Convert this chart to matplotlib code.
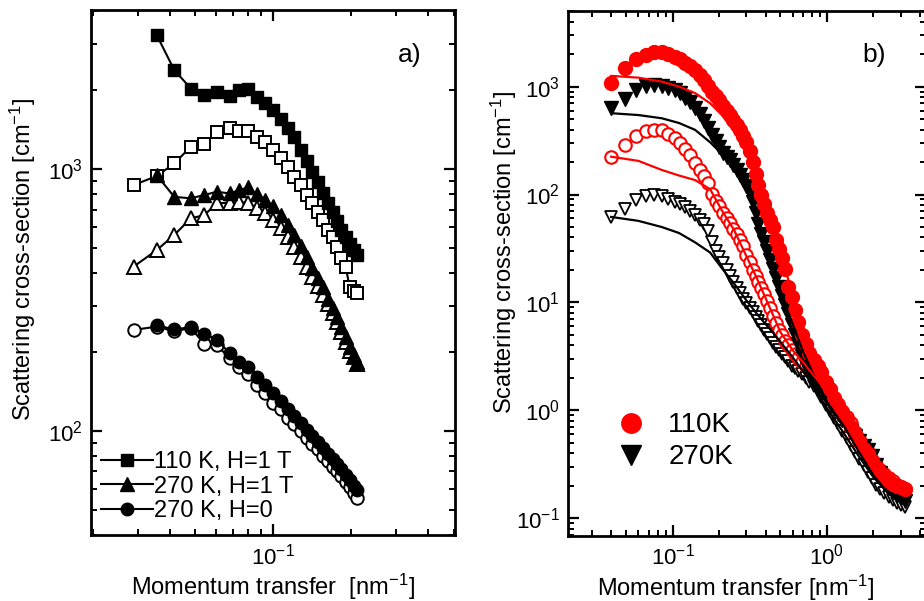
import numpy as np
import matplotlib
matplotlib.use('Agg')
import matplotlib.pyplot as plt
from matplotlib.lines import Line2D

plt.rcParams['font.family'] = ['Liberation Sans', 'DejaVu Sans']
plt.rcParams['mathtext.default'] = 'regular'

nan = np.nan

# ---------------- Panel a data ----------------
q_a = [0.0288, 0.0354, 0.0414, 0.048, 0.0541, 0.0605, 0.0678, 0.074, 0.0802, 0.0865,
       0.093, 0.100, 0.107, 0.114, 0.121, 0.128, 0.135, 0.142, 0.149, 0.156,
       0.163, 0.170, 0.177, 0.184, 0.191, 0.198, 0.205, 0.211]
sq_filled = [nan, 3250, 2390, 2030, 1920, 1975, 1900, 2005, 2030, 1890,
             1782, 1681, 1552, 1435, 1325, 1182, 1073, 974, 892, 810,
             742, 685, 633, 585, 550, 517, 490, 469]
sq_open = [869, 940, 1051, 1217, 1246, 1388, 1430, 1397, 1397, 1329,
           1271, 1182, 1099, 1020, 935, 869, 796, 739, 687, 638,
           585, 551, 505, 456, 424, 354, 342, 335]
tri_filled = [nan, 948, 783, 773, 796, 819, 807, 831, 851, 800,
              765, 722, 665, 611, 560, 508, 462, 419, 385, 354,
              318, 295, 272, 250, 228, 209, 195, 184]
tri_open = [424, 490, 560, 648, 667, 739, 745, 750, 739, 708,
            677, 638, 595, 549, 503, 461, 422, 387, 357, 330,
            305, 282, 260, 238, 218, 202, 191, 180]
circ_filled = [nan, 253, 244, 249, 235, 223, 198, 183, 176, 161,
               150, 139, 130, 121, 114, 107, 100.6, 95.4, 90.5, 85.9,
               81.5, 78, 74.6, 71.4, 67.7, 64.8, 61.5, 59.3]
circ_open = [243, 250, 240, 247, 215, 212, 190, 176, 165, 150,
             140, 128, 121, 112, 106, 100, 94, 89, 85, 80,
             76.5, 73, 70, 67, 64, 61, 58, 55.5]
labels_a = ['110 K, H=1 T', '270 K, H=1 T', '270 K, H=0']

# ---------------- Panel b data ----------------
q_b = [0.040, 0.049, 0.058, 0.067, 0.076, 0.085, 0.094, 0.103, 0.112, 0.121,
       0.130, 0.140, 0.150, 0.160, 0.170, 0.180, 0.190, 0.200, 0.212, 0.224,
       0.236, 0.248, 0.260, 0.273, 0.286, 0.300, 0.315, 0.330, 0.345, 0.360,
       0.376, 0.392, 0.410, 0.428, 0.447, 0.467, 0.488, 0.510, 0.535, 0.560,
       0.590, 0.620, 0.650, 0.690, 0.730, 0.770, 0.820, 0.870, 0.920, 0.980,
       1.04, 1.11, 1.18, 1.26, 1.34, 1.43, 1.52, 1.62, 1.73, 1.84,
       1.96, 2.09, 2.22, 2.36, 2.51, 2.67, 2.84, 3.02, 3.20]
red_filled = [1075, 1480, 1790, 1975, 2070, 2070, 1990, 1900, 1800, 1670,
              1555, 1420, 1290, 1150, 1010, 900, 810, 745, 660, 600,
              545, 495, 445, 395, 345, 305, 255, 200, 155, 123,
              98, 82, 68, 58, 50, 38, 31, 26, 20.5, 14,
              11.3, 8.5, 6.6, 5.0, 4.1, 3.4, 2.9, 2.55, 2.25, 1.85,
              1.58, 1.3, 1.1, 0.95, 0.82, 0.70, 0.60, 0.52, 0.44, 0.39,
              0.34, 0.30, 0.27, 0.24, 0.22, 0.21, 0.20, 0.195, 0.188]
black_filled = [640, 770, 930, 1010, 1035, 1005, 980, 935, 865, 790,
                720, 630, 555, 480, 410, 355, 310, 275, 243, 225,
                207, 188, 170, 152, 137, 120, 105, 85, 68, 53,
                43, 36, 30, 24.5, 20.5, 17, 14, 11.5, 9.4, 7.8,
                6.2, 5.0, 4.1, 3.2, 2.6, 2.25, 1.95, 1.7, 1.5, 1.32,
                1.18, 1.03, 0.92, 0.82, 0.73, 0.65, 0.58, 0.52, 0.47, 0.43,
                0.38, 0.315, 0.26, 0.215, 0.19, 0.175, 0.163, 0.155, 0.145]
red_open = [224, 288, 350, 388, 398, 395, 365, 335, 298, 265,
            232, 198, 170, 148, 128, 102, 87, 78, 68, 60,
            54, 48, 43.5, 38, 33.5, 27.5, 23.5, 20, 17.6, 15.5,
            13.6, 12, 10.3, 8.8, 7.5, 6.4, 5.5, 5.0, 4.4, 4.0,
            3.6, 3.3, 3.05, 2.8, 2.6, 2.4, 2.2, 2.02, 1.82, 1.6,
            1.45, 1.3, 1.15, 0.98, 0.86, 0.76, 0.63, 0.54, 0.46, 0.41,
            0.35, 0.31, 0.28, 0.255, 0.235, 0.22, 0.205, 0.195, 0.186]
black_open = [62, 73, 89, 96, 99, 96, 90, 86, 81, 76,
              70, 64, 58, 53, 46, 36, 30, 26.5, 23, 20,
              17.5, 15.5, 13.5, 12.2, 10.8, 9.8, 8.9, 8.1, 7.4, 6.8,
              6.2, 5.6, 5.1, 4.7, 4.25, 3.9, 3.6, 3.35, 3.1, 2.85,
              2.6, 2.45, 2.3, 2.15, 1.98, 1.85, 1.68, 1.52, 1.34, 1.12,
              0.98, 0.85, 0.74, 0.64, 0.56, 0.48, 0.41, 0.355, 0.31, 0.27,
              0.235, 0.205, 0.185, 0.17, 0.158, 0.148, 0.138, 0.132, 0.128]

q_fit = [0.040, 0.06, 0.085, 0.11, 0.14, 0.175, 0.21, 0.25, 0.30, 0.35, 0.40, 0.45,
         0.50, 0.60, 0.70, 0.80, 1.0, 1.3, 1.6, 2.0, 2.5, 3.0, 3.3]
fit_red_filled = [1257, 1210, 1112, 1000, 869, 701, 540, 390, 250, 150, 85, 48,
                  28, 12, 6, 3.6, 1.7, 0.85, 0.52, 0.32, 0.23, 0.2, 0.19]
fit_black_filled = [567, 545, 509, 460, 397, 305, 235, 170, 110, 65, 36, 20,
                    12.5, 6.3, 3.5, 2.3, 1.2, 0.7, 0.42, 0.25, 0.17, 0.145, 0.14]
fit_red_open = [224, 205, 169, 150, 136, 112, 70, 47, 27, 17, 11, 7.5,
                5.3, 3.6, 2.8, 2.2, 1.5, 0.9, 0.55, 0.33, 0.24, 0.2, 0.19]
fit_black_open = [62, 57, 50, 44, 36, 29, 20.5, 15, 10.5, 7.9, 6.3, 5.2,
                  4.3, 3.1, 2.3, 1.75, 1.05, 0.6, 0.38, 0.24, 0.17, 0.14, 0.135]
labels_b = ['110K', '270K']

RED = '#ff0000'

fig = plt.figure(figsize=(9.24, 6.01), dpi=100)
axa = fig.add_axes([0.0985, 0.1098, 0.394, 0.8735])
axb = fig.add_axes([0.6147, 0.1087, 0.3874, 0.8735])


def style(ax):
    ax.set_xscale('log')
    ax.set_yscale('log')
    for s in ax.spines.values():
        s.set_linewidth(2.0)
    ax.tick_params(which='both', direction='in', top=True, right=True,
                   labelsize=16, pad=6)
    ax.tick_params(which='major', length=8, width=1.6)
    ax.tick_params(which='minor', length=4.5, width=1.4)


# ---- panel a ----
style(axa)
lw = 1.5
axa.plot(q_a, sq_open, '-', color='k', lw=lw, marker='s', ms=9, mfc='white', mec='k', mew=1.4)
axa.plot(q_a, tri_open, '-', color='k', lw=lw, marker='^', ms=10, mfc='white', mec='k', mew=1.4)
axa.plot(q_a, circ_open, '-', color='k', lw=lw, marker='o', ms=9, mfc='white', mec='k', mew=1.4)
axa.plot(q_a, sq_filled, '-', color='k', lw=lw, marker='s', ms=9, label=labels_a[0])
axa.plot(q_a, tri_filled, '-', color='k', lw=lw, marker='^', ms=10, label=labels_a[1])
axa.plot(q_a, circ_filled, '-', color='k', lw=lw, marker='o', ms=9, label=labels_a[2])
axa.set_xlim(0.0197, 0.507)
axa.set_ylim(40, 4050)
axa.set_xlabel('Momentum transfer  [nm$^{-1}$]', fontsize=17)
axa.set_ylabel('Scattering cross-section [cm$^{-1}$]', fontsize=17)
axa.xaxis.set_label_coords(0.5, -0.07)
axa.yaxis.set_label_coords(-0.146, 0.525)
axa.text(0.874, 0.914, 'a)', transform=axa.transAxes, fontsize=19, ha='center', va='center')
axa.legend(loc='lower left', bbox_to_anchor=(0.027, 0.025), frameon=False, fontsize=17,
           handlelength=2.2, handletextpad=0.05, labelspacing=0.1, borderpad=0,
           borderaxespad=0)

# ---- panel b ----
style(axb)
axb.plot(q_b, black_open, ls='none', marker='v', ms=9, mfc='white', mec='k', mew=1.3)
axb.plot(q_b, red_open, ls='none', marker='o', ms=9, mfc='white', mec=RED, mew=1.5)
axb.plot(q_b, black_filled, ls='none', marker='v', ms=10, color='k')
axb.plot(q_b, red_filled, ls='none', marker='o', ms=10, color=RED)
axb.plot(q_fit, fit_red_filled, '-', color=RED, lw=1.6)
axb.plot(q_fit, fit_black_filled, '-', color='k', lw=1.6)
axb.plot(q_fit, fit_red_open, '-', color=RED, lw=1.6)
axb.plot(q_fit, fit_black_open, '-', color='k', lw=1.6)
axb.set_xlim(0.021, 4.38)
axb.set_ylim(0.069, 5050)
axb.set_xlabel('Momentum transfer [nm$^{-1}$]', fontsize=17)
axb.set_ylabel('Scattering cross-section [cm$^{-1}$]', fontsize=17)
axb.xaxis.set_label_coords(0.469, -0.07)
axb.yaxis.set_label_coords(-0.138, 0.54)
axb.text(0.856, 0.916, 'b)', transform=axb.transAxes, fontsize=19, ha='center', va='center')
handles_b = [Line2D([], [], ls='none', marker='o', ms=14, color=RED),
             Line2D([], [], ls='none', marker='v', ms=14, color='k')]
axb.legend(handles_b, labels_b, loc='upper left', bbox_to_anchor=(0.138, 0.235),
           frameon=False, fontsize=20, handlelength=1.0, handletextpad=0.83,
           labelspacing=0.22, borderpad=0, borderaxespad=0)

fig.savefig('out.png', dpi=100)
